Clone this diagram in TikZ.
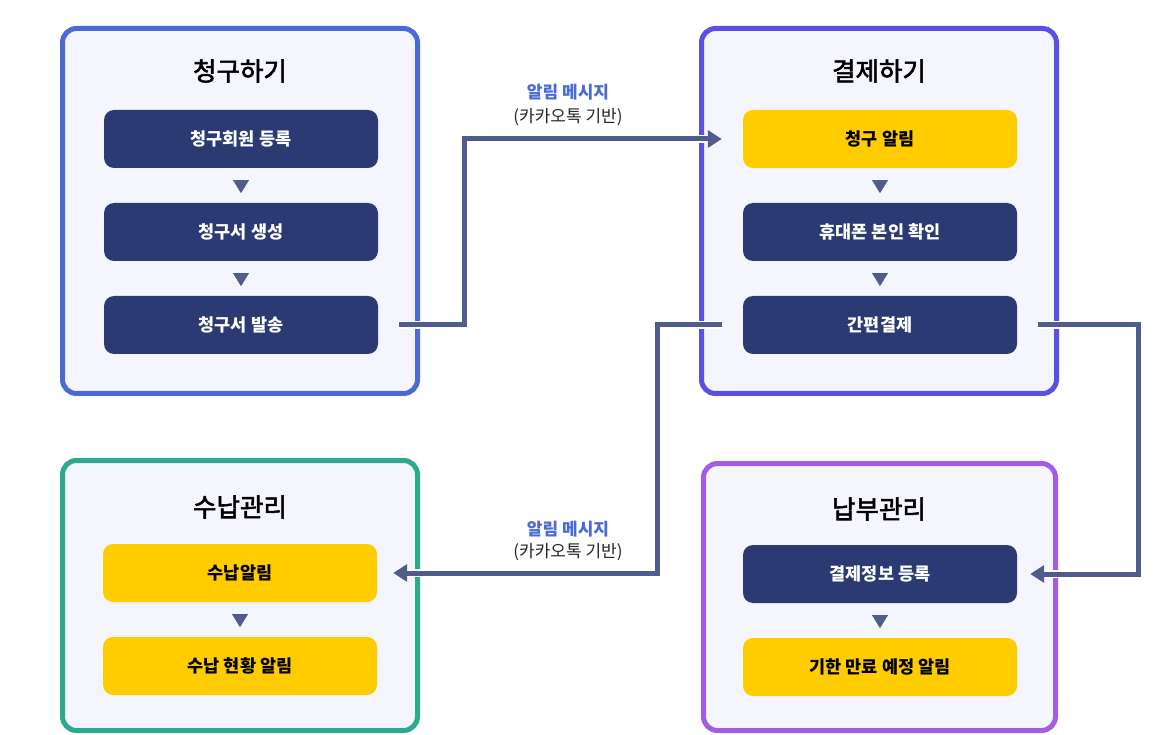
\documentclass[tikz,border=0pt]{standalone}
\usepackage{fontspec}
\setmainfont{Noto Sans CJK KR}
\newfontfamily\headfont[FakeBold=2.2]{Noto Sans CJK KR}
\usetikzlibrary{arrows.meta}

\definecolor{panelbg}{HTML}{F5F6FD}
\definecolor{billblue}{HTML}{4A6BD6}
\definecolor{payblue}{HTML}{5A50E6}
\definecolor{rcvgreen}{HTML}{2BAA8F}
\definecolor{duepurple}{HTML}{A35CE6}
\definecolor{navybox}{HTML}{2B3A72}
\definecolor{alertbox}{HTML}{FFCC00}
\definecolor{flowline}{HTML}{4F5C8C}
\definecolor{msgblue}{HTML}{4A6BD6}

\begin{document}
\begin{tikzpicture}[x=1pt, y=-1pt,
		panel/.style={draw, line width=5pt, fill=panelbg, rounded corners=14pt, minimum width=355pt, inner sep=0pt},
		heading/.style={font=\headfont\fontsize{25.5}{30}\selectfont, text=black},
		task/.style={rounded corners=10pt, minimum width=274pt, minimum height=58pt, inner sep=0pt, font=\bfseries\fontsize{17.5}{21}\selectfont},
		navy/.style={task, fill=navybox, text=white},
		alert/.style={task, fill=alertbox, text=black},
		flow/.style={draw=flowline, line width=5pt, -{Triangle[length=14pt,width=17pt]}, preaction={draw=white, line width=8pt}},
		msg/.style={font=\bfseries\fontsize{17}{20}\selectfont, text=msgblue},
		via/.style={font=\fontsize{17}{20}\selectfont, text=black!85}]
		\newcommand\pointer[1]{ %% argument: node the pointer hangs below
			\fill[flowline] ([yshift=-12pt]#1.south) ++(-8,0) -- ++(16,0) -- ++(-8,13) -- cycle;
		}
		
		\useasboundingbox (0,0) rectangle (1160,735);
		
		\node[panel, draw=billblue, minimum height=365pt] (billing) at (240,211) {};
		\node[heading] (billtitle) at (240,71) {청구하기};
		\node[navy] (member) at (241,139) {청구회원 등록};
		\node[navy] (invoice) at (241,232) {청구서 생성};
		\node[navy] (send) at (241,325) {청구서 발송};
		\pointer{member}
		\pointer{invoice}
		
		\node[panel, draw=payblue, minimum height=365pt] (paying) at (879,211) {};
		\node[heading] (paytitle) at (879,71) {결제하기};
		\node[alert] (notice) at (880,139) {청구 알림};
		\node[navy] (verify) at (880,232) {휴대폰 본인 확인};
		\node[navy] (easypay) at (880,325) {간편결제};
		\pointer{notice}
		\pointer{verify}
		
		\node[panel, draw=rcvgreen, minimum height=270pt] (receiving) at (240,595.5) {};
		\node[heading] (rcvtitle) at (240,507) {수납관리};
		\node[alert] (rcvnotice) at (240,573) {수납알림};
		\node[alert] (rcvstatus) at (240,666) {수납 현황 알림};
		\pointer{rcvnotice}
		
		\node[panel, draw=duepurple, minimum width=352pt, minimum height=267pt] (dues) at (879.5,597) {};
		\node[heading] (duetitle) at (879,509) {납부관리};
		\node[navy] (payreg) at (880,574) {결제정보 등록};
		\node[alert] (expiry) at (880,667) {기한 만료 예정 알림};
		\pointer{payreg}
		
		\draw[flow] ([xshift=21pt]send.east) -- ++(65,0) |- ([xshift=-21pt]notice.west);
		\draw[flow] ([xshift=-21pt]easypay.west) -- ++(-64,0) |- ([xshift=16pt]rcvnotice.east);
		\draw[flow] ([xshift=21pt]easypay.east) -- ++(100,0) |- ([xshift=13pt]payreg.east);
		
		\node[msg] (msg1) at (568,92) {알림 메시지};
		\node[via] (via1) at (568,117) {(카카오톡 기반)};
		\node[msg] (msg2) at (568,529) {알림 메시지};
		\node[via] (via2) at (568,552) {(카카오톡 기반)};
	\end{tikzpicture}
\end{document}
